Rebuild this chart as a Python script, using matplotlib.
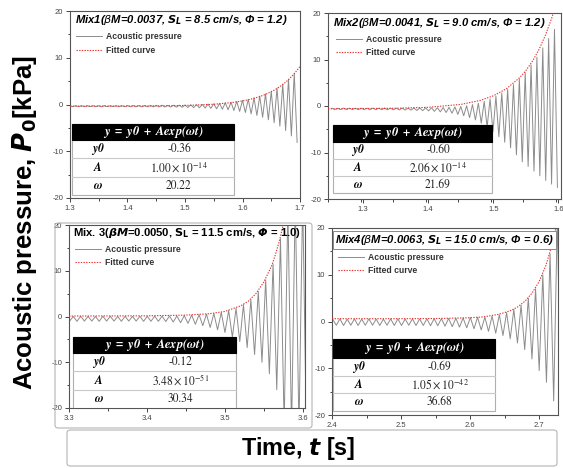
import numpy as np
import matplotlib
matplotlib.use("Agg")
import matplotlib.pyplot as plt
from matplotlib.patches import Rectangle, FancyBboxPatch

plt.rcParams['font.family'] = ['Liberation Sans', 'DejaVu Sans']
plt.rcParams['axes.unicode_minus'] = False

# ---------------- data ----------------
# acoustic pressure: successive maxima / minima of each oscillation cycle [kPa]
mix1_peaks = [-0.26, -0.25, -0.26, -0.24, -0.25, -0.25, -0.24, -0.25, -0.23, -0.24,
              -0.22, -0.22, -0.21, -0.20, -0.19, -0.17, -0.15, -0.18, -0.16, -0.14,
              -0.11, -0.08, -0.04, 0.01, 0.08, 0.15, 0.24, 0.35, 0.49, 0.66,
              0.87, 1.12, 1.43, 1.80, 2.27, 2.83, 3.52, 4.37, 5.41, 6.68]
mix1_troughs = [-0.46, -0.47, -0.46, -0.47, -0.47, -0.48, -0.47, -0.48, -0.48, -0.49,
                -0.49, -0.50, -0.50, -0.51, -0.51, -0.52, -0.53, -0.55, -0.57, -0.59,
                -0.63, -0.66, -0.70, -0.76, -0.83, -0.92, -1.01, -1.13, -1.29, -1.48,
                -1.71, -1.99, -2.33, -2.74, -3.26, -3.88, -4.64, -5.58, -6.72, -8.12]
mix1_span = (1.300, 1.695)
mix1_fit_t = [1.30, 1.40, 1.45, 1.50, 1.55, 1.58, 1.60, 1.61, 1.62, 1.63, 1.64,
              1.65, 1.66, 1.67, 1.68, 1.69, 1.70]
mix1_fit_p = [-0.36, -0.34, -0.31, -0.21, 0.05, 0.39, 0.76, 1.01, 1.32, 1.70, 2.16,
              2.73, 3.42, 4.26, 5.30, 6.57, 8.13]

mix2_peaks = [-0.47, -0.48, -0.46, -0.47, -0.48, -0.46, -0.47, -0.46, -0.47, -0.45,
              -0.46, -0.45, -0.45, -0.44, -0.44, -0.43, -0.41, -0.39, -0.36, -0.32,
              -0.27, -0.20, -0.10, 0.05, 0.30, 0.60, 1.00, 1.50, 2.10, 2.80,
              3.60, 4.60, 5.80, 7.20, 8.80, 10.5, 12.5, 14.5, 16.5]
mix2_troughs = [-0.76, -0.76, -0.77, -0.77, -0.78, -0.78, -0.79, -0.80, -0.80, -0.82,
                -0.83, -0.85, -0.88, -0.90, -0.95, -1.00, -1.05, -1.15, -1.25, -1.40,
                -1.55, -1.80, -2.10, -2.50, -3.00, -3.70, -4.50, -5.50, -6.60, -7.80,
                -9.00, -10.5, -12.0, -13.0, -14.0, -15.0, -16.0, -16.8, -17.5]
mix2_span = (1.252, 1.5985)
mix2_fit_t = [1.246, 1.35, 1.40, 1.45, 1.48, 1.50, 1.52, 1.54, 1.55, 1.56, 1.57,
              1.58, 1.59, 1.60, 1.605]
mix2_fit_p = [-0.60, -0.49, -0.28, 0.34, 1.20, 2.19, 3.70, 6.03, 7.62, 9.6, 12.1,
              15.2, 19.0, 23.7, 26.4]

mix3_peaks = [0.05, 0.0, 0.05, 0.02, 0.0, 0.05, 0.03, 0.0, 0.05, 0.02,
              0.05, 0.05, 0.08, 0.08, 0.10, 0.12, 0.2, 0.3, 0.4, 0.5,
              0.65, 0.9, 1.3, 1.8, 2.6, 3.7, 5.5, 8.0, 11.5, 17.0,
              24.0, 26.0, 26.0]
mix3_troughs = [-1.0, -1.05, -1.0, -1.0, -1.05, -1.0, -1.0, -1.05, -1.0, -1.0,
                -1.05, -1.05, -1.05, -1.1, -1.2, -1.35, -1.5, -1.7, -2.0, -2.4,
                -2.9, -3.5, -4.5, -5.5, -6.8, -8.3, -10.0, -12.5, -16.0, -24.0,
                -25.0, -25.0, -25.0]
mix3_span = (3.296, 3.60475)
mix3_fit_t = [3.30, 3.40, 3.45, 3.48, 3.50, 3.52, 3.53, 3.54, 3.55, 3.56, 3.565,
              3.57, 3.575, 3.58]
mix3_fit_p = [0.1, 0.15, 0.3, 0.6, 1.1, 2.3, 3.3, 5.0, 7.5, 11.0, 13.5,
              16.5, 20.0, 24.0]

mix4_peaks = [0.5, 0.55, 0.5, 0.55, 0.5, 0.55, 0.52, 0.5, 0.55, 0.55,
              0.52, 0.55, 0.55, 0.58, 0.6, 0.62, 0.65, 0.7, 0.75, 0.85,
              0.9, 0.95, 1.15, 1.45, 1.9, 2.6, 3.5, 5.0, 7.0, 10.0,
              14.5, 22.0]
mix4_troughs = [-0.8, -0.85, -0.8, -0.85, -0.8, -0.8, -0.85, -0.8, -0.85, -0.85,
                -0.8, -0.85, -0.85, -0.9, -0.9, -1.0, -1.1, -1.2, -1.35, -1.55,
                -1.8, -2.1, -2.5, -3.0, -3.7, -4.6, -6.0, -8.0, -10.5, -13.0,
                -17.0, -20.0]
mix4_span = (2.401, 2.73175)
mix4_fit_t = [2.40, 2.50, 2.55, 2.60, 2.62, 2.64, 2.65, 2.66, 2.67, 2.68, 2.69,
              2.70, 2.71, 2.72, 2.725, 2.73]
mix4_fit_p = [0.6, 0.6, 0.63, 0.8, 1.0, 1.5, 1.9, 2.4, 3.2, 4.4, 6.1,
              8.5, 12.0, 17.0, 20.5, 24.0]

# fit parameters shown in the tables
table_head = r'$\mathbfit{y\ =\ y0\ +\ Aexp(\omega t)}$'
table_labels = [r'$\mathbfit{y0}$', r'$\mathbfit{A}$', r'$\mathbfit{\omega}$']
mix1_table = ['-0.36', r'$1.00 \times 10^{-14}$', '20.22']
mix2_table = ['-0.60', r'$2.06 \times 10^{-14}$', '21.69']
mix3_table = ['-0.12', r'$3.48 \times 10^{-51}$', '30.34']
mix4_table = ['-0.69', r'$1.05 \times 10^{-42}$', '36.68']

mix1_title = r'Mix1($\beta$M=0.0037, $\mathbfit{S}_{\mathbfit{L}}$ = 8.5 cm/s, Φ = 1.2)'
mix2_title = r'Mix2($\beta$M=0.0041, $\mathbfit{S}_{\mathbfit{L}}$ = 9.0 cm/s, Φ = 1.2)'
mix3_title = r'Mix. 3($\mathbfit{\beta M}$=0.0050, $\mathbf{S}_{\mathbf{L}}$ = 11.5 cm/s, $\mathbfit{Φ}$ = 1.0)'
mix4_title = r'Mix4($\beta$M=0.0063, $\mathbfit{S}_{\mathbfit{L}}$ = 15.0 cm/s, Φ = 0.6)'


def signal(span, peaks, troughs):
    vals = np.empty(2 * len(peaks))
    vals[0::2] = peaks
    vals[1::2] = troughs
    t = np.linspace(span[0], span[1], len(vals))
    return t, vals


def draw_table(ax, box, head_h, values):
    x0, y0, x1, y1 = box
    tr = ax.transAxes
    w = x1 - x0
    ax.add_patch(Rectangle((x0, y0), w, y1 - y0, transform=tr, facecolor='white',
                           edgecolor='#b0b0b0', lw=0.8, zorder=5))
    ax.add_patch(Rectangle((x0, y1 - head_h), w, head_h, transform=tr,
                           facecolor='black', edgecolor='black', lw=0.8, zorder=6))
    ax.text(x0 + w / 2, y1 - head_h / 2, table_head, transform=tr, color='white',
            ha='center', va='center', fontsize=9, math_fontfamily='stix', zorder=7)
    row_h = (y1 - head_h - y0) / 3
    for i in range(3):
        yc = y1 - head_h - (i + 0.5) * row_h
        if i > 0:
            ax.plot([x0, x1], [y1 - head_h - i * row_h] * 2, transform=tr,
                    color='#c8c8c8', lw=0.8, zorder=6)
        ax.text(x0 + 0.16 * w, yc, table_labels[i], transform=tr, ha='center',
                va='center', fontsize=8.5, math_fontfamily='stix', zorder=7)
        ax.text(x0 + 0.66 * w, yc, values[i], transform=tr, ha='center',
                va='center', fontsize=8.3, color='#222222',
                math_fontfamily='stix', family='STIXGeneral', zorder=7)


fig = plt.figure(figsize=(5.63, 4.68), dpi=100)
W, H = 563.0, 468.0


def px_axes(x0, y0, x1, y1):
    return fig.add_axes([x0 / W, 1 - y1 / H, (x1 - x0) / W, (y1 - y0) / H])


panels = [
    dict(pos=(70, 11, 300, 198), xlim=(1.3, 1.7), xt=[1.3, 1.4, 1.5, 1.6, 1.7],
         sig=signal(mix1_span, mix1_peaks, mix1_troughs), fit=(mix1_fit_t, mix1_fit_p),
         title=mix1_title, tpos=(0.02, 0.952), tstyle='italic', tbox=False,
         table=mix1_table, tbox_xy=(0.009, 0.016, 0.713, 0.396), head=0.086,
         leg=(0.01, 0.905)),
    dict(pos=(328, 13, 561, 199), xlim=(1.246, 1.604), xt=[1.3, 1.4, 1.5, 1.6],
         sig=signal(mix2_span, mix2_peaks, mix2_troughs), fit=(mix2_fit_t, mix2_fit_p),
         title=mix2_title, tpos=(0.02, 0.946), tstyle='italic', tbox=False,
         table=mix2_table, tbox_xy=(0.021, 0.032, 0.704, 0.398), head=0.091,
         leg=(0.02, 0.90)),
    dict(pos=(69, 225, 305, 408), xlim=(3.3, 3.603), xt=[3.3, 3.4, 3.5, 3.6],
         sig=signal(mix3_span, mix3_peaks, mix3_troughs), fit=(mix3_fit_t, mix3_fit_p),
         title=mix3_title, tpos=(0.017, 0.956), tstyle='normal', tbox=False,
         table=mix3_table, tbox_xy=(0.017, 0.0, 0.708, 0.388), head=0.087,
         leg=(0.01, 0.91)),
    dict(pos=(332, 228, 558, 415), xlim=(2.4, 2.7275), xt=[2.4, 2.5, 2.6, 2.7],
         sig=signal(mix4_span, mix4_peaks, mix4_troughs), fit=(mix4_fit_t, mix4_fit_p),
         title=mix4_title, tpos=(0.013, 0.936), tstyle='italic', tbox=True,
         table=mix4_table, tbox_xy=(0.004, 0.021, 0.721, 0.406), head=0.10,
         leg=(0.01, 0.885)),
]

for p in panels:
    ax = px_axes(*p['pos'])
    t, v = p['sig']
    ax.plot(t, v, color='#8c8c8c', lw=0.7, label='Acoustic pressure', zorder=2)
    ax.plot(p['fit'][0], p['fit'][1], color='#e8322e', lw=0.8, ls=(0, (1.2, 1.2)),
            label='Fitted curve', zorder=3)
    ax.set_xlim(*p['xlim'])
    ax.set_ylim(-20, 20)
    ax.set_xticks(p['xt'])
    ax.set_xticks(np.arange(p['xlim'][0], p['xlim'][1], 0.05), minor=True)
    ax.set_yticks([-20, -10, 0, 10, 20])
    ax.set_yticks([-15, -5, 5, 15], minor=True)
    ax.set_xticklabels([f'{x:.1f}' for x in p['xt']])
    ax.tick_params(which='both', direction='out', labelsize=5.5, colors='#444444',
                   width=0.7, pad=2)
    ax.tick_params(which='major', length=3)
    ax.tick_params(which='minor', length=1.8)
    for s in ax.spines.values():
        s.set_color('#555555')
        s.set_linewidth(0.8)
    txt = ax.text(p['tpos'][0], p['tpos'][1], p['title'], transform=ax.transAxes,
                  fontsize=8.1, fontweight='bold', fontstyle=p['tstyle'],
                  va='center', ha='left', zorder=8)
    if p['tbox']:
        txt.set_bbox(dict(facecolor='white', edgecolor='#888888', lw=0.7,
                          boxstyle='square,pad=0.2'))
    leg = ax.legend(loc='upper left', bbox_to_anchor=p['leg'], frameon=False,
                    fontsize=6.2, handlelength=3.0, handletextpad=0.5,
                    labelspacing=0.5, borderaxespad=0)
    for tx in leg.get_texts():
        tx.set_fontweight('bold')
        tx.set_color('#333333')
    draw_table(ax, p['tbox_xy'], p['head'], p['table'])

# frames around the lower-left panel and the time label
fig.patches.append(FancyBboxPatch((55 / W, 1 - 428 / H), 257 / W, 205 / H,
                                  boxstyle='round,pad=0,rounding_size=0.006',
                                  transform=fig.transFigure, facecolor='none',
                                  edgecolor='#b5b5b5', lw=0.8, zorder=0))
fig.patches.append(FancyBboxPatch((67 / W, 1 - 466 / H), 490 / W, 36 / H,
                                  boxstyle='round,pad=0,rounding_size=0.006',
                                  transform=fig.transFigure, facecolor='none',
                                  edgecolor='#b5b5b5', lw=0.8, zorder=0))

fig.text(25 / W, 1 - 222 / H, r'Acoustic pressure, $\mathbfit{P}_{\mathbf{0}}$[kPa]',
         rotation=90, ha='center', va='center', fontsize=18.5, fontweight='bold')
fig.text(298 / W, 1 - 448 / H, r'Time, $\mathbfit{t}$ [s]', ha='center', va='center',
         fontsize=16.8, fontweight='bold')

fig.savefig('out.png', dpi=100, facecolor='white')
